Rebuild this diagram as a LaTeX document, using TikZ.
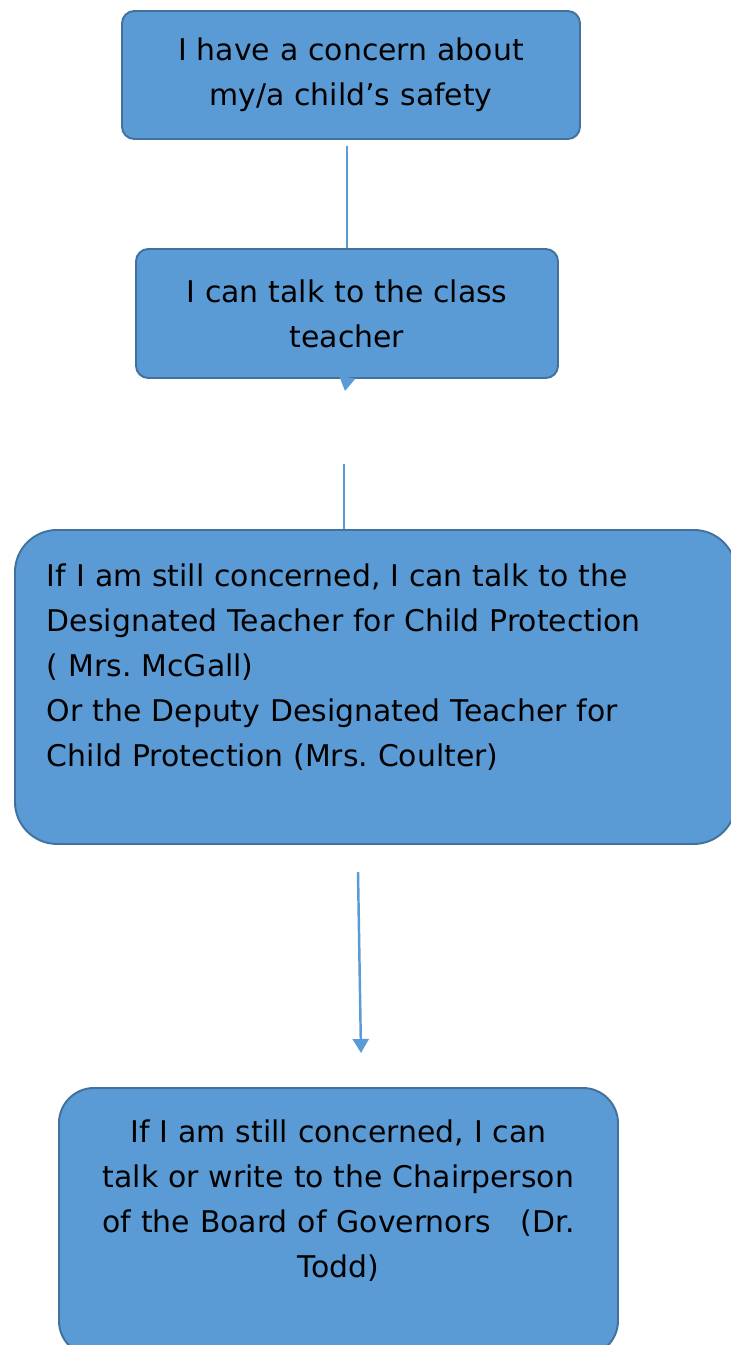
\documentclass[tikz,border=0pt]{standalone}
\usepackage{xcolor}
\usepackage{fontspec}
\setmainfont{DejaVu Sans}
\usepackage{tikz}
\usetikzlibrary{arrows.meta, positioning}
\definecolor{StepFill}{HTML}{5B9BD5}
\definecolor{StepEdge}{HTML}{41719C}
\definecolor{LinkBlue}{HTML}{5B9BD5}
\frenchspacing

\begin{document}
\begin{tikzpicture}[
  stepbox/.style={rectangle, rounded corners=7pt, fill=StepFill, draw=StepEdge,
    line width=1.1pt, font=\fontsize{17}{25.6}\selectfont, align=center},
  bigbox/.style={stepbox, inner ysep=0pt},
  line/.style={line width=1.4pt, color=LinkBlue},
  arrow/.style={line, -{Triangle[width=0.32cm, length=0.28cm]}}
]
\useasboundingbox (0,0) rectangle (14.62,-26.9);

\node[stepbox, minimum width=9.16cm, minimum height=2.56cm, text width=8.6cm]
  (concern) at (7.02,-1.5) {I have a concern about\\my/a child's safety};
\node[stepbox, minimum width=8.44cm, minimum height=2.58cm, text width=8cm]
  (classteacher) at (6.94,-6.27) {I can talk to the class\\teacher};
\node[bigbox, rounded corners=24pt, anchor=north west, inner xsep=0.64cm,
  text width=13.14cm, text height=1.14cm, text depth=5.14cm, align=left]
  (designated) at (0.28,-10.58)
  {If I am still concerned, I can talk to the\\
   Designated Teacher for Child Protection\\
   ( Mrs. McGall)\\
   Or the Deputy Designated Teacher for\\
   Child Protection (Mrs. Coulter)};
\node[bigbox, rounded corners=20pt, anchor=north west, inner xsep=0.3cm,
  text width=10.58cm, text height=1.1cm, text depth=4.26cm]
  (chair) at (1.16,-21.74)
  {If I am still concerned, I can\\
   talk or write to the Chairperson\\
   of the Board of Governors \ \ (Dr.\\
   Todd)};

\coordinate (tiptwo) at (6.9,-7.82);
\coordinate (gapthree) at (6.88,-9.28);
\coordinate (gapfour) at (7.16,-17.44);
\coordinate (tipfour) at (7.22,-21.06);

\draw[line, shorten <=0.12cm] (concern.south -| classteacher.north) -- (classteacher.north);
\draw[arrow] (classteacher.south) -- (tiptwo);
\draw[line] (gapthree) -- (gapthree |- designated.north);
\draw[arrow] (gapfour) -- (tipfour);
\end{tikzpicture}
\end{document}
